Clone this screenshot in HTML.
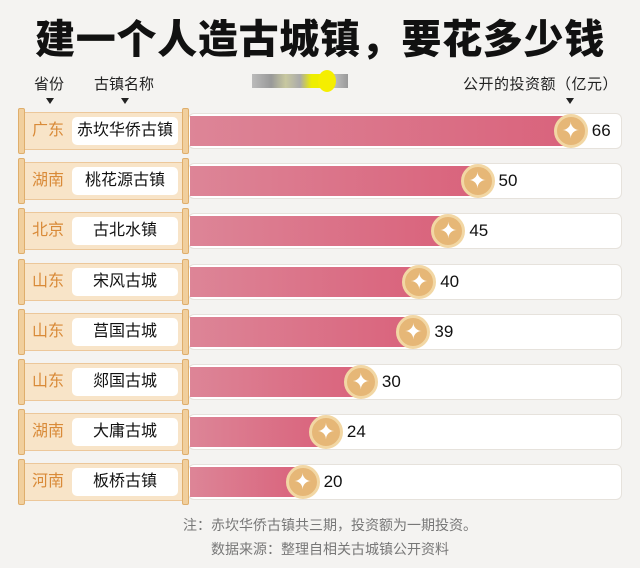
<!DOCTYPE html><html><head><meta charset="utf-8"><style>
*{margin:0;padding:0;box-sizing:border-box}
body{width:640px;height:568px;background:#f4f3f1;font-family:"Liberation Sans","Noto Sans CJK SC",sans-serif;position:relative;overflow:hidden}
.a{position:absolute}
.title{left:0;width:640px;top:16px;text-align:center;font-size:40px;font-weight:900;color:#111;letter-spacing:0.7px;line-height:48px}
.hd{font-size:15px;color:#222;line-height:18px}
.tri{width:0;height:0;border-left:4px solid transparent;border-right:4px solid transparent;border-top:6px solid #222}
.rowbox{left:188px;width:434px;height:36px;background:#fff;border:1px solid #e6e2dc;border-radius:6px}
.panel{left:20px;width:168px;height:38px;background:#f8e4c8;border:1px solid #ecc79a}
.post{width:7px;height:46px;background:#f1cf9d;border:1px solid #dfae6c;border-radius:2px}
.prov{left:28px;width:40px;text-align:center;font-size:16px;color:#d98a38;line-height:38px}
.name{left:72px;width:106px;height:28px;background:#fff;border-radius:5px;text-align:center;font-size:16px;color:#111;line-height:28px}
.bar{left:190px;height:30px;background:linear-gradient(90deg,#dd8597,#d9637c);border-radius:0 4px 4px 0}
.coin{width:34px;height:34px;border-radius:50%;background:#e6b777;border:3px solid #f2d7a4;color:#fff;font-size:22px;text-align:center;line-height:27px}
.val{font-size:17px;color:#111;line-height:20px}
.note{left:0;width:640px;text-align:center;font-size:14px;color:#777;line-height:18px}
</style></head><body>
<div class="a title">建一个人造古城镇，要花多少钱</div>
<div class="a hd" style="left:34px;top:76px">省份</div>
<div class="a tri" style="left:46px;top:98px"></div>
<div class="a hd" style="left:94px;top:76px">古镇名称</div>
<div class="a tri" style="left:121px;top:98px"></div>
<div class="a" style="left:252px;top:74px;width:96px;height:14px;background:linear-gradient(90deg,#bbb,#999 20%,#c8c8a0 35%,#aaa 50%,#ee0 62%,#ee0 70%,#ccc 80%,#999)"></div>
<div class="a" style="left:318px;top:70px;width:18px;height:22px;border-radius:50%;background:#f5ee00"></div>
<div class="a hd" style="left:463px;top:76px;letter-spacing:0.5px">公开的投资额（亿元）</div>
<div class="a tri" style="left:566px;top:98px"></div>
<div id="rows"></div>
<div class="a note" style="top:516px;left:10px">注：赤坎华侨古镇共三期，投资额为一期投资。</div>
<div class="a note" style="top:540px;left:10px">数据来源：整理自相关古城镇公开资料</div>
<script>
var d=[["广东","赤坎华侨古镇",66],["湖南","桃花源古镇",50],["北京","古北水镇",45],["山东","宋风古城",40],["山东","莒国古城",39],["山东","郯国古城",30],["湖南","大庸古城",24],["河南","板桥古镇",20]];
var h="";
d.forEach(function(r,i){var c=131+i*50.2;var x=186+r[2]*5.83;
h+='<div class="a rowbox" style="top:'+(c-18)+'px"></div>';
h+='<div class="a panel" style="top:'+(c-19)+'px"></div>';
h+='<div class="a post" style="left:18px;top:'+(c-23)+'px"></div>';
h+='<div class="a post" style="left:182px;top:'+(c-23)+'px"></div>';
h+='<div class="a prov" style="top:'+(c-19)+'px">'+r[0]+'</div>';
h+='<div class="a name" style="top:'+(c-14)+'px">'+r[1]+'</div>';
h+='<div class="a bar" style="top:'+(c-15)+'px;width:'+(x-190)+'px"></div>';
h+='<div class="a coin" style="left:'+(x-17)+'px;top:'+(c-17)+'px">✦</div>';
h+='<div class="a val" style="left:'+(x+21)+'px;top:'+(c-10)+'px">'+r[2]+'</div>';});
document.getElementById("rows").innerHTML=h;
</script>
</body></html>
